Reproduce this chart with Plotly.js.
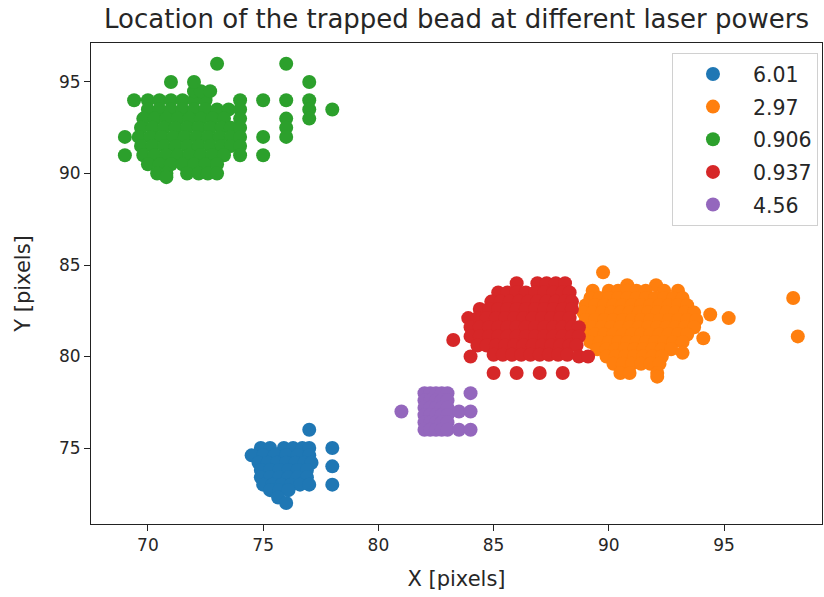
<!DOCTYPE html>
<html>
<head>
<meta charset="utf-8">
<script src="https://cdn.plot.ly/plotly-3.0.1.min.js"></script>
<style>html,body{margin:0;padding:0;background:#fff;}#chart{width:824px;height:597px;}</style>
</head>
<body>
<div id="chart"></div>
<script>
// Legend labels (laser powers) and colours
const seriesNames = ["6.01", "2.97", "0.906", "0.937", "4.56"];
const seriesColors = ["#1f77b4", "#ff7f0e", "#2ca02c", "#d62728", "#9467bd"];

// 6.01 (blue)
const blueX = [74.9,75.3,75.9,76.3,76.7,77.0, 74.5,75.0,75.5,76.0,76.5,77.0, 74.8,75.2,75.6,76.0,76.4,76.8,77.1,
  74.9,75.3,75.7,76.1,76.5,76.9, 74.9,75.3,75.7,76.1,76.5,76.9, 75.0,75.4,75.8,76.2,76.6,77.0, 75.3,75.7,76.1, 75.65, 76.0,
  77.0, 78.0, 78.0, 78.0];
const blueY = [75.0,75.0,75.0,75.0,75.0,75.0, 74.6,74.6,74.6,74.6,74.6,74.6, 74.2,74.2,74.2,74.2,74.2,74.2,74.2,
  73.8,73.8,73.8,73.8,73.8,73.8, 73.4,73.4,73.4,73.4,73.4,73.4, 73.0,73.0,73.0,73.0,73.0,73.0, 72.7,72.7,72.7, 72.3, 72.0,
  76.0, 75.0, 74.0, 73.0];

// 2.97 (orange)
const orangeX = [89.75, 90.8,92.05,
  89.3,90.0,90.4,90.8,91.2,91.6,92.4,93.0,
  89.2,89.6,90.0,90.4,90.8,91.2,91.6,92.0,92.4,92.8,93.2,
  89.0,89.4,89.8,90.2,90.6,91.0,91.4,91.8,92.2,92.6,93.0,93.4,
  88.9,89.3,89.7,90.1,90.5,90.9,91.3,91.7,92.1,92.5,92.9,93.3,93.7,94.4,
  89.0,89.4,89.8,90.2,90.6,91.0,91.4,91.8,92.2,92.6,93.0,93.4,93.8,
  88.9,89.3,89.7,90.1,90.5,90.9,91.3,91.7,92.1,92.5,92.9,93.3,93.7,
  89.0,89.4,89.8,90.2,90.6,91.0,91.4,91.8,92.2,92.6,93.0,93.4,94.1,
  89.2,89.6,90.0,90.4,90.8,91.2,91.6,92.0,92.4,92.8,93.2,
  89.5,89.9,90.3,90.7,91.1,91.5,91.9,92.3,92.7,93.2,
  89.9,90.3,90.7,91.1,91.5,91.9,92.3,
  90.2,90.6,91.0,91.4,91.8,92.2,
  90.5,90.9,92.1, 92.1,
  95.2, 98.0, 98.2];
const orangeY = [84.6, 83.9,83.9,
  83.6,83.6,83.6,83.6,83.6,83.6,83.6,83.6,
  83.2,83.2,83.2,83.2,83.2,83.2,83.2,83.2,83.2,83.2,83.2,
  82.8,82.8,82.8,82.8,82.8,82.8,82.8,82.8,82.8,82.8,82.8,82.8,
  82.4,82.4,82.4,82.4,82.4,82.4,82.4,82.4,82.4,82.4,82.4,82.4,82.4,82.3,
  82.0,82.0,82.0,82.0,82.0,82.0,82.0,82.0,82.0,82.0,82.0,82.0,82.0,
  81.6,81.6,81.6,81.6,81.6,81.6,81.6,81.6,81.6,81.6,81.6,81.6,81.6,
  81.2,81.2,81.2,81.2,81.2,81.2,81.2,81.2,81.2,81.2,81.2,81.2,81.0,
  80.8,80.8,80.8,80.8,80.8,80.8,80.8,80.8,80.8,80.8,80.8,
  80.4,80.4,80.4,80.4,80.4,80.4,80.4,80.4,80.4,80.2,
  80.0,80.0,80.0,80.0,80.0,80.0,80.0,
  79.6,79.6,79.6,79.6,79.6,79.6,
  79.1,79.1,79.1, 78.9,
  82.1, 83.2, 81.1];

// 0.906 (green)
const greenX = [69.4,70.0,70.5,71.0,71.5,72.0,72.5,
  72.0,72.3,72.7,
  70.0,70.5,71.0,71.5,72.0,72.5,73.0,73.5,
  69.8,70.3,70.8,71.3,71.8,72.3,72.8,73.3,
  69.7,70.2,70.7,71.2,71.7,72.2,72.7,73.2,73.6,
  69.6,70.1,70.6,71.1,71.6,72.1,72.6,73.1,73.6,
  69.7,70.2,70.7,71.2,71.7,72.2,72.7,73.2,73.6,
  69.8,70.3,70.8,71.3,71.8,72.3,72.8,73.3,
  70.0,70.5,71.0,71.5,72.0,72.5,73.0,
  70.4,70.8,71.7,72.2,72.6,73.0, 70.8,
  73.0, 76.0, 71.0, 72.0, 77.0, 74.0, 75.0, 76.0, 77.0, 78.0,
  76.0, 76.0, 76.0, 77.0, 77.0, 75.0, 75.0,
  74.0, 74.0, 74.0, 74.0, 74.0, 74.0, 69.0, 69.0];
const greenY = [94.0,94.0,94.0,94.0,94.0,94.0,94.0,
  94.5,94.5,94.5,
  93.5,93.5,93.5,93.5,93.5,93.5,93.5,93.5,
  93.0,93.0,93.0,93.0,93.0,93.0,93.0,93.0,
  92.5,92.5,92.5,92.5,92.5,92.5,92.5,92.5,92.5,
  92.0,92.0,92.0,92.0,92.0,92.0,92.0,92.0,92.0,
  91.5,91.5,91.5,91.5,91.5,91.5,91.5,91.5,91.5,
  91.0,91.0,91.0,91.0,91.0,91.0,91.0,91.0,
  90.5,90.5,90.5,90.5,90.5,90.5,90.5,
  90.0,90.0,90.0,90.0,90.0,90.0, 89.8,
  96.0, 96.0, 95.0, 95.0, 95.0, 94.0, 94.0, 94.0, 94.0, 93.5,
  93.0, 92.5, 92.0, 93.5, 93.0, 92.0, 91.0,
  93.5, 93.0, 92.5, 92.0, 91.5, 91.0, 92.0, 91.0];

// 0.937 (red)
const redX = [86.0,86.9,87.3,87.7,88.1,
  85.2,85.6,86.0,86.4,86.8,87.2,87.6,88.0,88.3,
  84.9,85.3,85.7,86.1,86.5,86.9,87.3,87.7,88.1,88.4,
  84.4,84.8,85.2,85.6,86.0,86.4,86.8,87.2,87.6,88.0,88.4,
  83.9,84.3,84.7,85.1,85.5,85.9,86.3,86.7,87.1,87.5,87.9,88.3,
  84.0,84.4,84.8,85.2,85.6,86.0,86.4,86.8,87.2,87.6,88.0,88.4,88.7,
  84.0,84.4,84.8,85.2,85.6,86.0,86.4,86.8,87.2,87.6,88.0,88.4,88.7,
  83.25,
  84.3,84.7,85.1,85.5,85.9,86.3,86.7,87.1,87.5,87.9,88.3,88.6,
  85.0,85.4,85.8,86.2,86.6,87.0,87.4,87.8,88.2,
  84.0,88.7,89.1,
  85.0,86.0,87.0,88.0];
const redY = [84.0,84.0,84.0,84.0,84.0,
  83.5,83.5,83.5,83.5,83.5,83.5,83.5,83.5,83.5,
  83.0,83.0,83.0,83.0,83.0,83.0,83.0,83.0,83.0,83.0,
  82.6,82.6,82.6,82.6,82.6,82.6,82.6,82.6,82.6,82.6,82.6,
  82.1,82.1,82.1,82.1,82.1,82.1,82.1,82.1,82.1,82.1,82.1,82.1,
  81.6,81.6,81.6,81.6,81.6,81.6,81.6,81.6,81.6,81.6,81.6,81.6,81.6,
  81.1,81.1,81.1,81.1,81.1,81.1,81.1,81.1,81.1,81.1,81.1,81.1,81.1,
  80.9,
  80.6,80.6,80.6,80.6,80.6,80.6,80.6,80.6,80.6,80.6,80.6,80.6,
  80.1,80.1,80.1,80.1,80.1,80.1,80.1,80.1,80.1,
  80.0,80.0,80.0,
  79.1,79.1,79.1,79.1];

// 4.56 (purple)
const purpleX = [82.0,82.25,82.5,82.75,83.0,
  82.0,82.25,82.5,82.75,83.0,
  82.0,82.25,82.5,82.75,83.0,
  82.0,82.25,82.5,82.75,83.0,
  82.0,82.25,82.5,82.75,83.0,
  82.0,82.25,82.5,82.75,83.0,
  83.5,84.0, 83.5,84.0, 84.0, 81.0];
const purpleY = [78.0,78.0,78.0,78.0,78.0,
  77.6,77.6,77.6,77.6,77.6,
  77.2,77.2,77.2,77.2,77.2,
  76.8,76.8,76.8,76.8,76.8,
  76.4,76.4,76.4,76.4,76.4,
  76.0,76.0,76.0,76.0,76.0,
  77.0,77.0, 76.0,76.0, 78.0, 77.0];

const xs = [blueX, orangeX, greenX, redX, purpleX];
const ys = [blueY, orangeY, greenY, redY, purpleY];

const FONT = "DejaVu Sans, sans-serif";
const TXT = "#262626";
const traces = seriesNames.map((name, i) => ({
  type: "scatter",
  mode: "markers",
  name: name,
  legendgroup: "g" + i,
  x: xs[i],
  y: ys[i],
  marker: {color: seriesColors[i], size: 14, line: {width: 0}},
  hoverinfo: "x+y+name"
}));

const axisCommon = {
  showgrid: false,
  zeroline: false,
  showline: true,
  linecolor: "#222",
  linewidth: 1,
  mirror: true,
  ticks: "outside",
  ticklen: 6,
  tickwidth: 1,
  tickcolor: "#222",
  tickfont: {family: FONT, size: 17, color: TXT}
};

const layout = {
  width: 824,
  height: 597,
  margin: {l: 91, r: 2, t: 43, b: 73},
  paper_bgcolor: "#fff",
  plot_bgcolor: "#fff",
  font: {family: FONT, color: TXT},
  title: {text: "Location of the trapped bead at different laser powers",
          font: {family: FONT, size: 26, color: TXT},
          x: 0.554, xanchor: "center", y: 0.968, yanchor: "middle"},
  xaxis: Object.assign({}, axisCommon, {
    range: [67.53, 99.25],
    tickvals: [70, 75, 80, 85, 90, 95],
    title: {text: "X [pixels]", font: {family: FONT, size: 21, color: TXT}, standoff: 16}
  }),
  yaxis: Object.assign({}, axisCommon, {
    range: [70.85, 97.13],
    tickvals: [75, 80, 85, 90, 95],
    title: {text: "Y [pixels]", font: {family: FONT, size: 21, color: TXT}, standoff: 22}
  }),
  showlegend: true,
  legend: {
    x: 0.9945, y: 0.979, xanchor: "right", yanchor: "top",
    bgcolor: "#fff", bordercolor: "#d0d0d0", borderwidth: 1,
    font: {family: FONT, size: 20.5, color: TXT},
    tracegroupgap: 3,
    itemwidth: 70
  }
};

Plotly.newPlot("chart", traces, layout, {displayModeBar: false, staticPlot: true});
</script>
</body>
</html>
